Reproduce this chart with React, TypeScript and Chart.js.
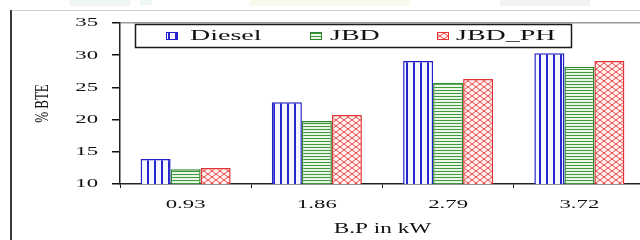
import { useEffect, useRef } from "react";
import { Chart, registerables } from "chart.js";

Chart.register(...registerables);

const categories = ["0.93", "1.86", "2.79", "3.72"];
const seriesNames = ["Diesel", "JBD", "JBD_PH"];
const diesel = [13.9, 22.7, 29.1, 30.3];
const jbd = [12.3, 19.8, 25.7, 28.2];
const jbdPh = [12.5, 20.7, 26.3, 29.1];
const yTicks = [10, 15, 20, 25, 30, 35];
const xTitle = "B.P in kW";
const yTitle = "% BTE";

const FONT = '"Liberation Serif", "Times New Roman", serif';

function makePattern(kind: string): CanvasPattern | string {
  const c = document.createElement("canvas");
  const g = c.getContext("2d")!;
  if (kind === "v") {
    c.width = 7; c.height = 4;
    g.fillStyle = "#f6f6ff"; g.fillRect(0, 0, 7, 4);
    g.fillStyle = "#2626cc"; g.fillRect(0, 0, 2, 4);
  } else if (kind === "h") {
    c.width = 4; c.height = 3;
    g.fillStyle = "#ecf6e6"; g.fillRect(0, 0, 4, 3);
    g.fillStyle = "#3f9a3f"; g.fillRect(0, 0, 4, 1);
  } else {
    c.width = 8; c.height = 6;
    g.fillStyle = "#fff1f1"; g.fillRect(0, 0, 8, 6);
    g.strokeStyle = "#e64848"; g.lineWidth = 1;
    g.beginPath();
    g.moveTo(0, 0); g.lineTo(8, 6);
    g.moveTo(8, 0); g.lineTo(0, 6);
    g.stroke();
  }
  return g.createPattern(c, "repeat") || "#ccc";
}

const SCALE: Record<number, number> = { 13: 1.75, 14: 2.0, 15: 1.55 };

export default function App() {
  const ref = useRef<HTMLCanvasElement>(null);

  useEffect(() => {
    const canvas = ref.current!;
    const ctx = canvas.getContext("2d")!;
    const orig = ctx.fillText;
    (ctx as any).fillText = function (text: string, x: number, y: number, maxWidth?: number) {
      const t = ctx.getTransform();
      const rotated = Math.abs(t.b) > 0.5;
      const m = ctx.font.match(/(\d+(?:\.\d+)?)px/);
      const size = m ? parseFloat(m[1]) : 12;
      const sx = rotated ? 1.4 : SCALE[size] ?? 1.7;
      ctx.save();
      ctx.translate(x, y);
      if (rotated) ctx.scale(1, sx);
      else ctx.scale(sx, 1);
      if (maxWidth === undefined) orig.call(ctx, text, 0, 0);
      else orig.call(ctx, text, 0, 0, maxWidth);
      ctx.restore();
    };

    const fills = [makePattern("v"), makePattern("h"), makePattern("x")];
    const borders = ["#2222c8", "#2f8a2f", "#e03434"];
    const values = [diesel, jbd, jbdPh];

    const framePlugin = {
      id: "frame",
      beforeDraw(chart: any) {
        const c = chart.ctx;
        c.save();
        c.fillStyle = "#ffffff";
        c.fillRect(0, 0, chart.width, chart.height);
        // faint scan blobs at top
        c.fillStyle = "rgba(200,225,225,0.3)";
        c.fillRect(70, 0, 60, 6);
        c.fillRect(140, 0, 12, 5);
        c.fillStyle = "rgba(225,240,200,0.35)";
        c.fillRect(250, 0, 160, 6);
        c.fillStyle = "rgba(220,220,225,0.35)";
        c.fillRect(500, 0, 90, 6);
        // outer frame
        c.strokeStyle = "#d0d0d0";
        c.lineWidth = 1;
        c.beginPath();
        c.moveTo(11, 10.5);
        c.lineTo(chart.width, 10.5);
        c.stroke();
        c.strokeStyle = "#3a3a3a";
        c.lineWidth = 2;
        c.beginPath();
        c.moveTo(11, 10);
        c.lineTo(11, chart.height);
        c.stroke();
        c.restore();
      },
    };

    const legendPlugin = {
      id: "boxLegend",
      afterDraw(chart: any) {
        const c = chart.ctx;
        c.save();
        c.strokeStyle = "#1a1a1a";
        c.lineWidth = 1.5;
        c.strokeRect(135.5, 24.5, 436, 23);
        const markerX = [166, 310, 437];
        const textX = [190, 330, 456];
        const y = 36;
        chart.data.datasets.forEach((ds: any, i: number) => {
          c.fillStyle = ds.backgroundColor;
          c.fillRect(markerX[i], y - 4, 11, 7);
          c.strokeStyle = ds.borderColor;
          c.lineWidth = 1;
          c.strokeRect(markerX[i] + 0.5, y - 3.5, 11, 7);
          c.fillStyle = "#111";
          c.font = `14px ${FONT}`;
          c.textAlign = "left";
          c.textBaseline = "middle";
          c.fillText(ds.label, textX[i], y);
        });
        c.restore();
      },
    };

    const chart = new Chart(canvas, {
      type: "bar",
      data: {
        labels: categories,
        datasets: seriesNames.map((name, i) => ({
          label: name,
          data: values[i],
          backgroundColor: fills[i] as any,
          borderColor: borders[i],
          borderWidth: 1.5,
          categoryPercentage: 0.686,
          barPercentage: 1.0,
        })),
      },
      options: {
        responsive: false,
        animation: false,
        devicePixelRatio: 1,
        events: [],
        layout: { padding: { top: 23, left: 0, right: 15, bottom: 0 } },
        plugins: {
          legend: { display: false },
          tooltip: { enabled: false },
        },
        scales: {
          x: {
            offset: true,
            grid: {
              offset: true,
              drawOnChartArea: false,
              drawTicks: true,
              tickLength: 4,
              tickColor: "#111",
            },
            border: { display: true, color: "#222", width: 1.5 },
            ticks: {
              padding: 9,
              color: "#111",
              font: { family: FONT, size: 13 },
            },
            title: {
              display: true,
              text: xTitle,
              color: "#111",
              font: { family: FONT, size: 15 },
              padding: { top: 0, bottom: 2 },
            },
            afterFit: (s: any) => {
              s.height = 56;
            },
          },
          y: {
            min: 10,
            max: 35,
            afterBuildTicks: (s: any) => {
              s.ticks = yTicks.map((v) => ({ value: v }));
            },
            grid: {
              drawOnChartArea: true,
              color: (c: any) => (c.tick && c.tick.value === 35 ? "#9a9a9a" : "rgba(0,0,0,0)"),
              tickColor: "#111",
              tickLength: 8,
              lineWidth: 1.5,
            },
            border: { display: true, color: "#222", width: 1.5 },
            ticks: {
              padding: 14,
              color: "#111",
              font: { family: FONT, size: 13 },
            },
            title: {
              display: true,
              text: yTitle,
              color: "#111",
              font: { family: FONT, size: 13 },
              padding: { top: 35, bottom: 0 },
            },
            afterFit: (s: any) => {
              s.width = 120;
            },
          },
        },
      },
      plugins: [framePlugin, legendPlugin],
    });

    return () => {
      chart.destroy();
      (ctx as any).fillText = orig;
    };
  }, []);

  return (
    <div
      style={{
        position: "fixed",
        left: 0,
        top: 0,
        width: 640,
        height: 240,
        overflow: "hidden",
        background: "#fff",
      }}
    >
      <canvas ref={ref} width={660} height={240} style={{ display: "block" }} />
    </div>
  );
}
